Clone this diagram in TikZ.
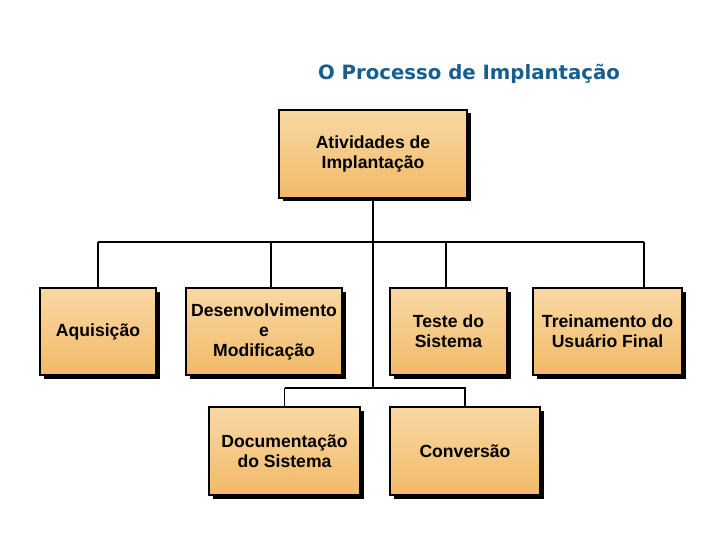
\documentclass[tikz,border=0pt]{standalone}
\usepackage{fontspec}
\setmainfont{Liberation Sans}
\newfontfamily\titlefont{DejaVu Sans}
\usetikzlibrary{shadows}
\definecolor{boxtop}{HTML}{F9D8A4}
\definecolor{boxbot}{HTML}{F1BA68}
\definecolor{titleblue}{HTML}{165E8C}
\tikzset{
  actbox/.style={draw=black, line width=1.3pt, top color=boxtop, bottom color=boxbot,
    drop shadow={shadow xshift=3.5pt, shadow yshift=-3.5pt, fill=black, opacity=1},
    align=center, font=\bfseries\fontsize{17.6}{20}\selectfont, inner sep=1pt},
  link/.style={draw=black, line width=1.6pt}
}
\begin{document}
\begin{tikzpicture}[x=1pt,y=-1pt]
\useasboundingbox (0,0) rectangle (720,540);
\node[text=titleblue, font=\titlefont\bfseries\fontsize{19.7}{22}\selectfont] (title) at (469,74) {O Processo de Implantação};
\node[actbox, minimum width=188pt, minimum height=88pt] (top) at (373,154) {Atividades de\\Implantação};
\node[actbox, minimum width=116pt, minimum height=87pt] (aq) at (98,331.5) {Aquisição};
\node[actbox, minimum width=156pt, minimum height=87pt] (dev) at (264,331.5) {Desenvolvimento\\e\\Modificação};
\node[actbox, minimum width=117pt, minimum height=87pt] (tst) at (448.5,331.5) {Teste do\\Sistema};
\node[actbox, minimum width=149pt, minimum height=87pt] (trn) at (607.5,331.5) {Treinamento do\\Usuário Final};
\node[actbox, minimum width=151pt, minimum height=88pt] (doc) at (284.5,451) {Documentação\\do Sistema};
\node[actbox, minimum width=150pt, minimum height=88pt] (cnv) at (465,451) {Conversão};
\coordinate (bL) at (98,242);
\coordinate (bR) at (644,242);
\coordinate (tEnd) at (373,388);
\coordinate (lL) at (285,388);
\coordinate (lR) at (466,388);
\draw[link] (top.south) -- (tEnd);
\draw[link] (bL) -- (bR);
\draw[link] (lL) -- (lR);
\draw[link] (aq.north) -- (aq.north |- bL);
\draw[link] ([xshift=7pt]dev.north) -- ([xshift=7pt]dev.north |- bL);
\draw[link] ([xshift=-2.5pt]tst.north) -- ([xshift=-2.5pt]tst.north |- bL);
\draw[link] ([xshift=36.5pt]trn.north) -- ([xshift=36.5pt]trn.north |- bL);
\draw[link] (doc.north) -- (doc.north |- lL);
\draw[link] (cnv.north) -- (cnv.north |- lL);
\end{tikzpicture}
\end{document}
